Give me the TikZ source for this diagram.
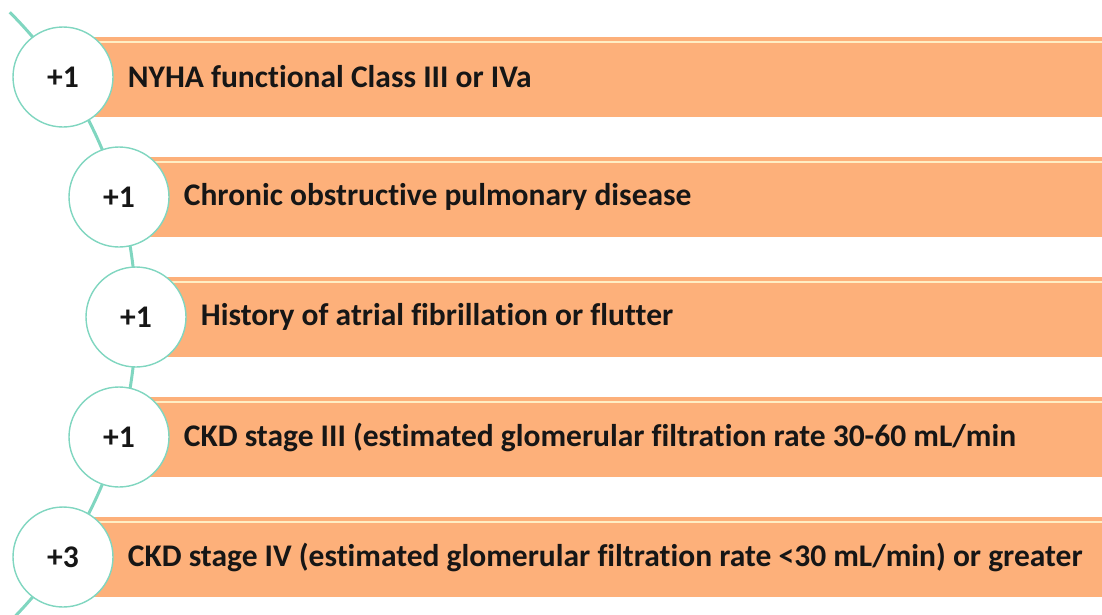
\documentclass[tikz,border=0pt]{standalone}
\usepackage{fontspec}
\setmainfont{Carlito}[Ligatures={NoCommon}]
\usetikzlibrary{positioning}
\definecolor{barorange}{RGB}{253,176,122}
\definecolor{gloss}{RGB}{255,238,196}
\definecolor{teal}{RGB}{128,214,192}
\definecolor{ink}{RGB}{22,22,22}

\begin{document}
\begin{tikzpicture}[x=1pt,y=1pt,
 font=\fontsize{31.5}{36}\selectfont\bfseries,
 bar/.style={fill=barorange,draw=none,anchor=west,minimum height=80pt,inner sep=0pt},
 pts/.style={circle,draw=teal,line width=1.4pt,fill=white,minimum size=100pt,inner sep=0pt,text=ink},
 item/.style={anchor=west,inner sep=0pt,text=ink,right=14pt of #1},
 shine/.style={draw=gloss,line width=2.5pt}]
 \useasboundingbox (0,0) rectangle (1102,-614);
 % spine
 \coordinate (hub) at (-295,-317);
 \draw[teal,line width=3pt] ([shift={(45:431pt)}]hub) arc[start angle=45,end angle=-44,radius=431pt];
 % bars
 \node[bar,minimum width=1039pt] (b1) at (63,-77) {};
 \node[bar,minimum width=983pt] (b2) at (119,-197) {};
 \node[bar,minimum width=966pt] (b3) at (136,-317) {};
 \node[bar,minimum width=983pt] (b4) at (119,-437) {};
 \node[bar,minimum width=1039pt] (b5) at (63,-557) {};
 \draw[shine] ([yshift=-5pt]b1.north west) -- ([yshift=-5pt]b1.north east);
 \draw[shine] ([yshift=-5pt]b2.north west) -- ([yshift=-5pt]b2.north east);
 \draw[shine] ([yshift=-5pt]b3.north west) -- ([yshift=-5pt]b3.north east);
 \draw[shine] ([yshift=-5pt]b4.north west) -- ([yshift=-5pt]b4.north east);
 \draw[shine] ([yshift=-5pt]b5.north west) -- ([yshift=-5pt]b5.north east);
 % points
 \node[pts] (c1) at (63,-77) {+1};
 \node[pts] (c2) at (119,-197) {+1};
 \node[pts] (c3) at (136,-317) {+1};
 \node[pts] (c4) at (119,-437) {+1};
 \node[pts] (c5) at (63,-557) {+3};
 \node[item=c1] (t1) {NYHA functional Class III or IVa};
 \node[item=c2] (t2) {Chronic obstructive pulmonary disease};
 \node[item=c3] (t3) {History of atrial fibrillation or flutter};
 \node[item=c4] (t4) {CKD stage III (estimated glomerular filtration rate 30-60 mL/min};
 \node[item=c5] (t5) {CKD stage IV (estimated glomerular filtration rate <30 mL/min) or greater};
\end{tikzpicture}
\end{document}
